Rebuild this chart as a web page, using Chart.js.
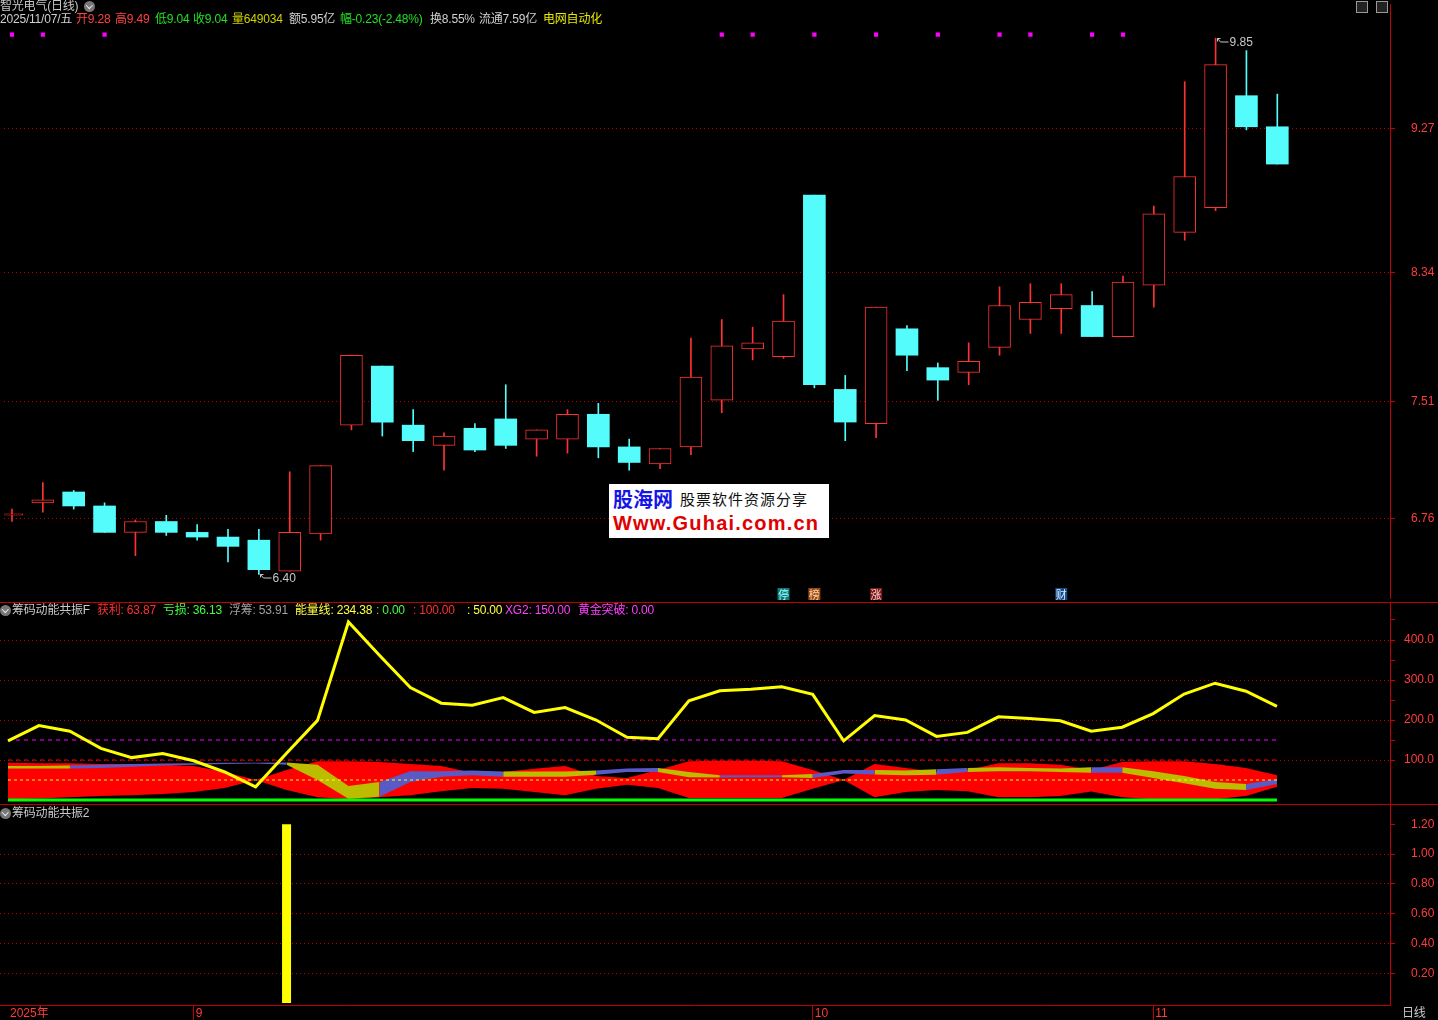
<!DOCTYPE html>
<html lang="zh">
<head>
<meta charset="utf-8">
<title>智光电气(日线)</title>
<script src="https://cdn.jsdelivr.net/npm/chart.js@4/dist/chart.umd.min.js"></script>
<style>
  html, body { margin: 0; padding: 0; background: #000; }
  body { position: relative; width: 1438px; height: 1020px; overflow: hidden;
         font-family: "Liberation Sans", "Noto Sans CJK SC", sans-serif; font-size: 12px; }
  .pane { position: absolute; left: 0; width: 1438px; }
  .sep { position: absolute; left: 0; width: 1438px; height: 1px; background: #c00000; }
  .t { position: absolute; white-space: nowrap; line-height: 13px; font-size: 12px; letter-spacing: -0.2px; }
  .icon { position: absolute; width: 11px; height: 11px; border-radius: 50%; background: #777; }
  .icon::after { content: ''; position: absolute; left: 3px; top: 1.5px; width: 3.5px; height: 3.5px;
                 border-right: 1.5px solid #eee; border-bottom: 1.5px solid #eee; transform: rotate(45deg); }
  .btn { position: absolute; top: 1px; width: 10px; height: 10px; border: 1px solid #999; background: #222; }
  .wm { position: absolute; left: 609px; top: 484px; width: 220px; height: 54px; background: #fff; }
  .wm .a { position: absolute; left: 4px; top: 3px; font: bold 20px "Noto Sans CJK SC"; color: #1515e6; line-height: 24px; }
  .wm .b { position: absolute; left: 71px; top: 6px; font: 15px "Noto Sans CJK SC"; color: #111; line-height: 18px; letter-spacing: 1px; }
  .wm .c { position: absolute; left: 4px; top: 27px; font: bold 20px "Liberation Sans"; color: #e00000; line-height: 24px; letter-spacing: 1.2px; }
</style>
</head>
<body>
<div class="pane" style="top:0;height:602px"><canvas id="main"></canvas></div>
<div class="sep" style="top:602px"></div>
<div class="pane" style="top:603px;height:201px"><canvas id="ind"></canvas></div>
<div class="sep" style="top:804px"></div>
<div class="pane" style="top:805px;height:215px"><canvas id="sub"></canvas></div>

<!-- header texts -->
<div class="t" style="left:0;top:0;color:#c8c8c8">智光电气(日线)</div>
<div class="icon" style="left:84px;top:1px"></div>
<div class="btn" style="left:1356px"></div>
<div class="btn" style="left:1376px"></div>
<div class="t" style="left:0;top:13px;color:#d0d0d0">2025/11/07/五</div>
<div class="t" style="left:76px;top:13px;color:#ff4040">开9.28</div>
<div class="t" style="left:115px;top:13px;color:#ff4040">高9.49</div>
<div class="t" style="left:155px;top:13px;color:#20e020">低9.04</div>
<div class="t" style="left:193px;top:13px;color:#20e020">收9.04</div>
<div class="t" style="left:232px;top:13px;color:#d0d000">量649034</div>
<div class="t" style="left:289px;top:13px;color:#d0d0d0">额5.95亿</div>
<div class="t" style="left:340px;top:13px;color:#20e020">幅-0.23(-2.48%)</div>
<div class="t" style="left:430px;top:13px;color:#d0d0d0">换8.55%</div>
<div class="t" style="left:479px;top:13px;color:#d0d0d0">流通7.59亿</div>
<div class="t" style="left:543px;top:13px;color:#e8e800">电网自动化</div>

<div class="icon" style="left:0;top:605px"></div>
<div class="t" style="left:12px;top:604px;color:#c8c8c8">筹码动能共振F</div>
<div class="t" style="left:97px;top:604px;color:#ff3030">获利: 63.87</div>
<div class="t" style="left:163px;top:604px;color:#40ff40">亏损: 36.13</div>
<div class="t" style="left:229px;top:604px;color:#a0a0a0">浮筹: 53.91</div>
<div class="t" style="left:295px;top:604px;color:#ffff40">能量线: 234.38</div>
<div class="t" style="left:376px;top:604px;color:#40ff40">: 0.00</div>
<div class="t" style="left:413px;top:604px;color:#ff3030">: 100.00</div>
<div class="t" style="left:467px;top:604px;color:#ffff40">: 50.00</div>
<div class="t" style="left:505px;top:604px;color:#ff40ff">XG2: 150.00</div>
<div class="t" style="left:578px;top:604px;color:#ff40ff">黄金突破: 0.00</div>

<div class="icon" style="left:0;top:808px"></div>
<div class="t" style="left:12px;top:807px;color:#c8c8c8">筹码动能共振2</div>
<div class="t" style="left:1402px;top:1007px;color:#c8c8c8">日线</div>

<div class="wm">
  <div class="a">股海网</div>
  <div class="b">股票软件资源分享</div>
  <div class="c">Www.Guhai.com.cn</div>
</div>

<script>
// daily candles
const opens  = [6.78,6.86,6.93,6.84,6.67,6.74,6.67,6.64,6.62,6.42,6.66,7.36,7.74,7.36,7.23,7.34,7.40,7.27,7.27,7.43,7.22,7.11,7.22,7.52,7.85,7.80,8.84,7.59,7.37,7.98,7.73,7.70,7.86,8.04,8.11,8.13,7.93,8.26,8.60,8.76,9.48,9.28];
const highs  = [6.82,6.99,6.94,6.86,6.75,6.78,6.72,6.69,6.69,7.06,7.10,7.81,7.74,7.46,7.31,7.37,7.62,7.33,7.46,7.50,7.27,7.21,7.92,8.04,7.99,8.20,8.84,7.68,8.12,8.00,7.76,7.89,8.25,8.27,8.27,8.22,8.32,8.77,9.57,9.85,9.77,9.49];
const lows   = [6.74,6.80,6.82,6.67,6.52,6.65,6.62,6.48,6.40,6.42,6.62,7.33,7.29,7.19,7.07,7.19,7.21,7.16,7.18,7.15,7.07,7.08,7.17,7.44,7.78,7.79,7.60,7.26,7.28,7.71,7.52,7.62,7.81,7.95,7.95,7.93,7.93,8.12,8.55,8.74,9.26,9.04];
const closes = [6.79,6.88,6.84,6.67,6.74,6.67,6.64,6.58,6.43,6.67,7.10,7.81,7.38,7.26,7.29,7.20,7.23,7.33,7.43,7.22,7.12,7.21,7.67,7.87,7.89,8.03,7.62,7.38,8.12,7.81,7.65,7.77,8.13,8.15,8.20,7.93,8.28,8.72,8.96,9.68,9.28,9.04];
const priceTicks = [9.27, 8.34, 7.51, 6.76];

// magenta signal dots and event tags on the price panel
const markIdx = [0, 1, 3, 23, 24, 26, 28, 30, 32, 33, 35, 36];
const tagIdx  = [25, 26, 28, 34];
const tagText = ['停', '榜', '涨', '财'];

// 筹码动能共振F
const energy    = [148,186,172,129,106,116,98,70,33,117,199,445,362,281,242,237,256,219,231,200,157,153,248,273,277,283,264,148,211,200,159,169,208,204,198,172,182,216,265,292,272,234];
const profitTop = [93,92,92,90,90,88,85,70,50,75,97,97,95,90,85,68,70,78,85,60,55,75,97,98,98,97,75,50,90,80,70,75,92,92,88,75,95,97,97,90,80,62];
const profitBot = [2,4,7,10,12,15,20,30,50,25,7,2,7,12,22,30,28,20,12,28,38,30,5,5,5,5,28,50,7,20,25,22,7,7,10,21,7,2,2,2,10,33];
const chipTop   = [85,85,86,88,90,91,92,93,93,94,88,35,45,72,72,74,71,71,71,74,79,80,70,62,62,62,65,75,75,74,77,80,82,80,79,82,82,72,60,45,40,52];
const chipBot   = [79,79,79,80,83,86,88,90,91,88,50,3,8,45,58,62,58,58,58,63,70,70,57,56,57,57,55,66,64,62,63,70,72,72,70,68,68,55,42,28,25,40];
const chipTone  = ['o','o','b','b','b','b','b','b','b','o','o','o','b','b','b','b','o','o','o','b','b','o','o','b','b','o','b','b','o','o','b','o','o','o','o','b','o','o','o','o','b','b'];
const xg2Level = 150, upperLevel = 100, midLevel = 50, baseLevel = 0;
const indTicks = [100, 150, 200, 250, 300, 350, 400, 450];

// 筹码动能共振2
const signal = [0,0,0,0,0,0,0,0,0,1.2,0,0,0,0,0,0,0,0,0,0,0,0,0,0,0,0,0,0,0,0,0,0,0,0,0,0,0,0,0,0,0,0];
const subTicks = [0.2, 0.4, 0.6, 0.8, 1.0, 1.2];

// date axis
const dateTickIdx = [0, 6, 26, 37];
const dateTickText = ['2025年', '9', '10', '11'];

const days = opens.map((_, i) => i);
const X_MIN = -0.2585, X_MAX = 44.652;
const UP = '#ff3232', DOWN = '#54fcfc', AXIS = '#c00000', LABEL = '#ff3c3c';
const OLIVE = '#bcbc00', SLATE = '#5a5ac6';
const isUp = i => closes[i] >= opens[i];

Chart.defaults.font.family = '"Liberation Sans", "Noto Sans CJK SC", sans-serif';
Chart.defaults.font.size = 12;

function xHidden() {
    return { type: 'linear', min: X_MIN, max: X_MAX, offset: false, display: false, grid: { offset: false } };
}

function rightAxis(min, max, ticks, fmt, pad, gridOn) {
    return {
        position: 'right', min: min, max: max,
        afterBuildTicks: s => { s.ticks = ticks.map(v => ({ value: v })); },
        afterFit: s => { s.width = 48; s.paddingTop = 0; s.paddingBottom = 0; },
        ticks: { color: LABEL, padding: pad, callback: fmt, autoSkip: false },
        grid: {
            color: c => (c.tick && gridOn(c.tick.value)) ? AXIS : 'transparent',
            tickColor: AXIS, tickLength: 5, drawTicks: true
        },
        border: { display: true, color: AXIS, width: 1, dash: [1, 3] }
    };
}

const baseOptions = {
    responsive: true, maintainAspectRatio: false, animation: false, events: [],
    layout: { padding: 0 },
    plugins: { legend: { display: false }, tooltip: { enabled: false } }
};

// labels for extreme prices and the event tags
const priceNotes = {
    id: 'priceNotes',
    afterDatasetsDraw(chart) {
        const { ctx, scales: { x, y } } = chart;
        ctx.save();
        ctx.strokeStyle = '#c8c8c8';
        ctx.fillStyle = '#c8c8c8';
        ctx.lineWidth = 1;
        ctx.font = '12px "Liberation Sans"';
        ctx.textBaseline = 'middle';
        const lo = lows.indexOf(Math.min(...lows));
        const hi = highs.indexOf(Math.max(...highs));
        [[lo, lows[lo]], [hi, highs[hi]]].forEach(([i, v]) => {
            const px = Math.round(x.getPixelForValue(i)) + 0.5;
            const py = Math.round(y.getPixelForValue(v)) + 0.5;
            ctx.beginPath();
            ctx.moveTo(px + 4, py); ctx.lineTo(px + 1, py); ctx.lineTo(px + 1, py + 3);
            ctx.moveTo(px + 1, py); ctx.lineTo(px + 4, py + 3.5); ctx.lineTo(px + 12, py + 3.5);
            ctx.stroke();
            ctx.fillText(v.toFixed(2), px + 13, py + 4);
        });

        const tagBg = ['#0a7a7a', '#9a4a1a', '#7a1a1a', '#1a4a8a'];
        const tagFg = ['#aaffff', '#ffd0a0', '#ffd0d0', '#d0f0ff'];
        ctx.font = '11px "Noto Sans CJK SC"';
        ctx.textAlign = 'center';
        tagIdx.forEach((i, k) => {
            const px = x.getPixelForValue(i);
            ctx.fillStyle = tagBg[k];
            ctx.fillRect(px - 6, 588, 12, 12);
            ctx.fillStyle = tagFg[k];
            ctx.fillText(tagText[k], px, 594.5);
        });
        ctx.restore();
    }
};

new Chart(document.getElementById('main'), {
    type: 'bar',
    data: {
        datasets: [
            {
                type: 'line', data: markIdx.map(i => ({ x: i, y: 9.873 })), showLine: false,
                pointStyle: 'rect', pointRadius: 3, pointBackgroundColor: '#ff00ff', pointBorderWidth: 0
            },
            {
                data: days.map(i => ({ x: i, y: [opens[i], closes[i]] })),
                grouped: false, barThickness: 22, borderSkipped: false,
                backgroundColor: days.map(i => isUp(i) ? '#000' : DOWN),
                borderColor: days.map(i => isUp(i) ? UP : DOWN),
                borderWidth: days.map(i => isUp(i) ? 1 : 0)
            },
            {
                data: days.map(i => ({ x: i, y: [lows[i], highs[i]] })),
                grouped: false, barThickness: 1, borderWidth: 0,
                backgroundColor: days.map(i => isUp(i) ? UP : DOWN)
            }
        ]
    },
    options: Object.assign({}, baseOptions, {
        scales: {
            x: xHidden(),
            y: rightAxis(6.2478, 10.07, priceTicks, v => v.toFixed(2), 16, () => true)
        }
    }),
    plugins: [priceNotes]
});

const flat = v => days.map(i => ({ x: i, y: v }));
const pts = arr => arr.map((v, i) => ({ x: i, y: v }));
const lineSet = (data, color, width, dash) => ({
    data: data, borderColor: color, borderWidth: width, borderDash: dash || [],
    pointRadius: 0, tension: 0, fill: false
});

new Chart(document.getElementById('ind'), {
    type: 'line',
    data: {
        datasets: [
            lineSet(pts(energy), '#ffff00', 3),
            lineSet(flat(xg2Level), '#ff00ff', 1, [4, 4]),
            lineSet(flat(upperLevel), '#ff0000', 1, [4, 4]),
            lineSet(flat(midLevel), '#ffff00', 1, [3, 3]),
            lineSet(flat(baseLevel), '#00ff00', 3),
            {
                data: pts(chipTop), borderWidth: 0, pointRadius: 0, tension: 0,
                fill: '+1', backgroundColor: SLATE,
                segment: { backgroundColor: c => chipTone[c.p0DataIndex] === 'o' ? OLIVE : SLATE }
            },
            { data: pts(chipBot), borderWidth: 0, pointRadius: 0, tension: 0, fill: false },
            {
                data: pts(profitTop), borderWidth: 0, pointRadius: 0, tension: 0,
                fill: '+1', backgroundColor: '#ff0000'
            },
            { data: pts(profitBot), borderWidth: 0, pointRadius: 0, tension: 0, fill: false }
        ]
    },
    options: Object.assign({}, baseOptions, {
        scales: {
            x: xHidden(),
            y: rightAxis(-10, 492.5, indTicks, v => v % 100 === 0 ? v.toFixed(1) : '', 9, v => v % 100 === 0)
        }
    })
});

new Chart(document.getElementById('sub'), {
    type: 'bar',
    data: {
        datasets: [{
            data: pts(signal), backgroundColor: '#ffff00', borderWidth: 0,
            barThickness: 9, grouped: false, inflateAmount: 0
        }]
    },
    options: Object.assign({}, baseOptions, {
        scales: {
            x: {
                type: 'linear', min: X_MIN, max: X_MAX, position: 'bottom', offset: false,
                afterBuildTicks: s => { s.ticks = dateTickIdx.map(v => ({ value: v })); },
                afterFit: s => { s.height = 15; s.paddingLeft = 0; s.paddingRight = 0; },
                ticks: {
                    color: LABEL, align: 'start', padding: -14, labelOffset: 2, autoSkip: false, maxRotation: 0,
                    callback: v => dateTickText[dateTickIdx.indexOf(v)]
                },
                grid: {
                    offset: false, drawOnChartArea: false, drawTicks: true, tickLength: 15,
                    tickColor: c => c.index === 0 ? 'transparent' : AXIS
                },
                border: { display: true, color: AXIS }
            },
            y: rightAxis(-0.0134, 1.329, subTicks, v => v.toFixed(2), 16, v => v < 1.1)
        }
    })
});
</script>
</body>
</html>
